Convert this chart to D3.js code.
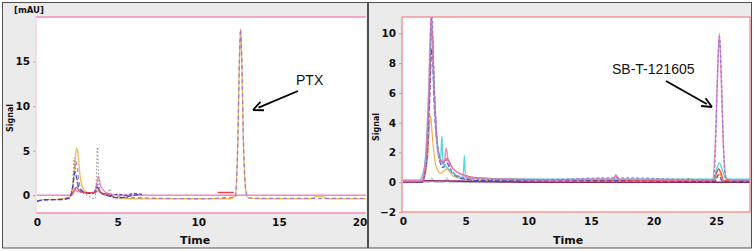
<!DOCTYPE html>
<html><head><meta charset="utf-8">
<script src="https://cdn.jsdelivr.net/npm/d3@7"></script>
<style>html,body{margin:0;padding:0;background:#fff;}svg{display:block;}</style>
</head><body>
<svg id="chart" width="754" height="251"></svg>
<script>
// ---------- DATA ----------
const leftTicksY = [0, 5, 10, 15];
const leftTicksX = [0, 5, 10, 15, 20];
const rightTicksY = [-2, 0, 2, 4, 6, 8, 10];
const rightTicksX = [0, 5, 10, 15, 20, 25];
const leftUnit = "[mAU]";
const axisLabelX = "Time";
const axisLabelY = "Signal";
const leftPeakLabel = "PTX";
const rightPeakLabel = "SB-T-121605";

// Left chromatogram traces: [time, signal]
const leftOrange = [[0,-0.6],[0.5,-0.5],[1,-0.5],[1.5,-0.4],[1.9,-0.3],[2.1,0],[2.25,1.5],[2.35,3.5],[2.45,5.3],[2.55,4.5],[2.65,2.5],[2.8,1.0],[3.0,0.4],[3.3,0.2],[3.6,0.3],[3.75,0.8],[3.9,0.4],[4.3,0],[5,-0.3],[6,-0.4],[8,-0.4],[10,-0.4],[12,-0.4],[12.3,0],[12.45,6],[12.55,15],[12.62,18.7],[12.7,15],[12.8,6],[12.95,0.5],[13.1,-0.3],[14,-0.4],[17,-0.4],[17.4,-0.1],[17.6,-0.1],[18,-0.4],[20.4,-0.4]];
const leftPurple = [[0,-0.6],[1,-0.5],[2,-0.3],[2.2,0.5],[2.3,2.5],[2.4,3.8],[2.5,3.0],[2.6,1.5],[2.8,0.5],[3.2,0.2],[3.6,0.4],[3.75,1.2],[3.9,0.5],[4.3,0.1],[5,-0.2],[6.5,-0.3],[10,-0.4],[12.3,-0.2],[12.45,6],[12.55,15],[12.62,18.6],[12.7,15],[12.8,6],[12.95,0.5],[13.1,-0.3],[14,-0.35],[20.4,-0.35]];
const leftBlue = [[0,-0.7],[0.5,-0.5],[1.5,-0.5],[2,-0.3],[2.2,0.8],[2.35,2.6],[2.45,2.0],[2.6,0.8],[3.0,0.3],[3.5,0.2],[3.75,0.9],[3.95,0.3],[4.5,-0.1],[5,-0.3],[5.5,-0.2],[6,0],[6.5,0.1]];
const leftPink = [[0,0],[2.2,0],[2.35,0.7],[2.5,0.4],[3.5,0.2],[3.7,1.2],[3.8,2.1],[3.95,1.0],[4.3,0.3],[5,0],[20.4,0]];
const leftRed = [[2.1,0],[2.3,0.5],[2.45,0.9],[2.6,0.5],[3.0,0.3],[3.6,0.3],[3.8,0.5],[4.0,0.2],[4.5,0.1]];
const leftRedSegment = [[11.2,0.3],[12.2,0.3]];
const leftGrey = [[2.0,-0.5],[2.2,1],[2.3,4.2],[2.4,2.5],[2.6,0.5],[3.0,0.1],[3.6,-0.4],[3.7,3],[3.75,5.4],[3.8,3],[3.9,0.5],[4.1,0],[4.4,0.1],[4.5,0.7],[4.6,0.1]];
const leftDarkPurple = [[4.5,-0.1],[5,0.1],[5.5,0.0],[6,0.2],[6.5,0.1]];

// Right chromatogram traces: [time, signal]
const rightPink = [[0,0.1],[1.4,0.1],[1.8,1.5],[2.05,6],[2.25,11.5],[2.45,7],[2.7,3],[3.0,1.5],[3.3,1.4],[3.45,2.3],[3.6,1.5],[4,0.9],[4.5,0.6],[5,0.4],[6,0.25],[8,0.2],[12,0.15],[15.5,0.2],[16.8,0.2],[17,0.45],[17.2,0.2],[22,0.15],[24.7,0.15],[24.9,2],[25.1,7],[25.25,10],[25.4,7],[25.6,2],[25.8,0.3],[26,0.15],[27.7,0.15]];
const rightPurple = [[0,0.05],[1.5,0.05],[1.85,1.2],[2.1,6],[2.3,11.5],[2.5,6.5],[2.75,2.5],[3.1,1.2],[3.5,1.5],[3.8,0.9],[4.5,0.4],[6,0.2],[10,0.15],[17,0.3],[24.8,0.15],[24.95,2.5],[25.12,7.5],[25.27,9.8],[25.42,7],[25.6,2],[25.8,0.2],[27.7,0.1]];
const rightBlue = [[0,0],[1.5,0],[1.9,1.5],[2.1,5],[2.3,9],[2.5,5],[2.8,2],[3.2,1.0],[3.5,1.3],[3.8,0.8],[4.5,0.3],[5,0.2],[6,0.1],[17,0.1],[24.9,0.05],[25.2,0.5],[25.5,0.05],[27.7,0.05]];
const rightCyan = [[0,0.15],[1.3,0.15],[1.7,1],[2.0,5],[2.15,8.5],[2.3,11],[2.5,6],[2.8,2],[3.0,1.5],[3.1,3.1],[3.2,1.3],[3.5,1.0],[4,0.6],[4.8,0.3],[4.9,1.8],[5.0,0.3],[6,0.25],[10,0.2],[17,0.2],[24.8,0.2],[25.0,0.8],[25.25,1.3],[25.5,0.8],[25.8,0.2],[27.7,0.2]];
const rightRed = [[0,0],[1.5,0.05],[1.9,2],[2.1,6],[2.3,10.5],[2.5,6],[2.8,2.2],[3.2,1.3],[3.5,1.6],[4,0.9],[5,0.45],[6,0.3],[10,0.2],[16.8,0.15],[17,0.5],[17.2,0.15],[22.6,0.1],[22.8,0.25],[23,0.1],[24.8,0.1],[25.0,0.6],[25.2,0.9],[25.4,0.6],[25.6,0.1],[27.7,0.1]];
const rightOrange = [[0,0.05],[1.6,0.05],[2.0,2],[2.2,4.5],[2.35,3],[2.6,1.2],[3,0.6],[3.5,0.9],[4,0.4],[6,0.1],[24.9,0.1],[25.2,0.9],[25.5,0.1],[27.7,0.1]];
const rightMagenta = [[0,0],[1.5,0],[1.7,0.1],[2,0.1],[6,0.05],[12,0],[17,0],[22,0],[27.7,0]];
const rightGrey = [[0,0],[2.1,0],[2.3,0.3],[2.5,0],[3.3,0],[3.5,0.3],[3.7,0],[27.7,0]];

// ---------- DRAW ----------
const svg = d3.select("#chart");
const tickFont = "DejaVu Sans, Verdana, sans-serif";

function panel(cfg) {
  const g = svg.append("g");
  g.append("rect").attr("x", cfg.px).attr("y", 2.5).attr("width", cfg.pw).attr("height", 245.5)
    .attr("fill", "#ebebeb").attr("stroke", "#505050").attr("stroke-width", 1);
  g.append("rect").attr("x", cfg.x0).attr("y", 17).attr("width", cfg.x1 - cfg.x0).attr("height", cfg.y0 - 17)
    .attr("fill", "#fff");
  const x = d3.scaleLinear().domain(cfg.xd).range([cfg.xz, cfg.x1]);
  const y = d3.scaleLinear().domain(cfg.yd).range([cfg.y0, 17]);
  const clipId = "clip" + cfg.px;
  svg.append("clipPath").attr("id", clipId).append("rect")
    .attr("x", cfg.x0).attr("y", 17).attr("width", cfg.x1 - cfg.x0).attr("height", cfg.y0 - 17);

  // Y axis
  const ya = d3.axisLeft(y).tickValues(cfg.yt).tickSize(3).tickPadding(3).tickFormat(d3.format("d"));
  const yg = g.append("g").attr("transform", `translate(${cfg.x0},0)`).call(ya);
  yg.select(".domain").remove();
  yg.selectAll("line").attr("stroke", cfg.frame);
  yg.selectAll("text").attr("font-family", tickFont).attr("font-weight", "bold").attr("font-size", 10.5).attr("fill", "#111");
  // X axis
  const xa = d3.axisBottom(x).tickValues(cfg.xt).tickSize(0).tickPadding(6).tickFormat(d3.format("d"));
  const xg = g.append("g").attr("transform", `translate(0,${cfg.y0})`).call(xa);
  xg.select(".domain").remove();
  xg.selectAll("text").attr("font-family", tickFont).attr("font-weight", "bold").attr("font-size", 10.5).attr("fill", "#111");

  const line = d3.line().x(d => x(d[0])).y(d => y(d[1])).curve(d3.curveMonotoneX);
  const lg = g.append("g").attr("clip-path", `url(#${clipId})`);
  cfg.traces.forEach(t => {
    lg.append("path").datum(t.data).attr("d", line).attr("fill", "none")
      .attr("stroke", t.color).attr("stroke-width", t.w || 1.2)
      .attr("stroke-dasharray", t.dash || null).attr("opacity", t.op || 0.9);
  });

  // frame
  if (cfg.fullFrame) {
    g.append("rect").attr("x", cfg.x0).attr("y", 17).attr("width", cfg.x1 - cfg.x0).attr("height", cfg.y0 - 17)
      .attr("fill", "none").attr("stroke", cfg.frame).attr("stroke-width", 1.3);
  } else {
    g.append("line").attr("x1", cfg.x0).attr("x2", cfg.x1).attr("y1", 17).attr("y2", 17).attr("stroke", cfg.frame).attr("stroke-width", 1.5);
    g.append("line").attr("x1", cfg.x0).attr("x2", cfg.x1).attr("y1", cfg.y0).attr("y2", cfg.y0).attr("stroke", cfg.frame).attr("stroke-width", 1.5);
    g.append("line").attr("x1", cfg.x0).attr("x2", cfg.x0).attr("y1", 17).attr("y2", cfg.y0).attr("stroke", "#f6c6da").attr("stroke-width", 1);
  }

  g.append("text").attr("x", cfg.timeX).attr("y", 244).text(axisLabelX)
    .attr("font-family", tickFont).attr("font-weight", "bold").attr("font-size", 11).attr("fill", "#111");
  g.append("text").attr("transform", `translate(${cfg.sigX},${cfg.sigY}) rotate(-90)`).attr("text-anchor", "middle")
    .text(axisLabelY).attr("font-family", tickFont).attr("font-weight", "bold").attr("font-size", 8).attr("fill", "#111");

  // annotation
  g.append("text").attr("x", cfg.ann.tx).attr("y", cfg.ann.ty).text(cfg.ann.label)
    .attr("font-family", "Liberation Sans, Arial, sans-serif").attr("font-size", 14).attr("fill", "#111");
  const a = cfg.ann;
  const ang = Math.atan2(a.y2 - a.y1, a.x2 - a.x1);
  g.append("line").attr("x1", a.x1).attr("y1", a.y1).attr("x2", a.x2 - 6 * Math.cos(ang)).attr("y2", a.y2 - 6 * Math.sin(ang))
    .attr("stroke", "#000").attr("stroke-width", 1.8);
  const L = 10, W = 4.5;
  const bx = a.x2 - L * Math.cos(ang), by = a.y2 - L * Math.sin(ang);
  g.append("path").attr("d", `M${a.x2},${a.y2}L${bx + W * Math.sin(ang)},${by - W * Math.cos(ang)}M${a.x2},${a.y2}L${bx - W * Math.sin(ang)},${by + W * Math.cos(ang)}`)
    .attr("stroke", "#000").attr("stroke-width", 1.8).attr("fill", "none");
  return g;
}

const lp = panel({
  px: 2.5, pw: 365, x0: 36, xz: 37, x1: 366, y0: 213,
  xd: [0, 20.4], yd: [-2, 20], xt: leftTicksX, yt: leftTicksY,
  frame: "#f08cbc", fullFrame: false,
  timeX: 180, sigX: 13, sigY: 118,
  traces: [
    {data: leftPink, color: "#f27ab8", w: 1.4},
    {data: leftOrange, color: "#f5b13c", w: 1.3},
    {data: leftPurple, color: "#9178d0", w: 1.3, dash: "4,3"},
    {data: leftBlue, color: "#3434c8", w: 1.3, dash: "5,2"},
    {data: leftRed, color: "#e33a4a", w: 1.2},
    {data: leftRedSegment, color: "#e83030", w: 1.5},
    {data: leftGrey, color: "#808080", w: 1, dash: "1.5,2"},
    {data: leftDarkPurple, color: "#6a2aa0", w: 1.3, dash: "3,2"}
  ],
  ann: {label: leftPeakLabel, tx: 296, ty: 85, x1: 298, y1: 91, x2: 253, y2: 110}
});
lp.append("text").attr("x", 14).attr("y", 13).text(leftUnit)
  .attr("font-family", tickFont).attr("font-weight", "bold").attr("font-size", 8.5).attr("fill", "#111");

panel({
  px: 368.5, pw: 383, x0: 402, xz: 403, x1: 750, y0: 212,
  xd: [0, 27.7], yd: [-2, 11.1], xt: rightTicksX, yt: rightTicksY,
  frame: "#f28a8a", fullFrame: true,
  timeX: 553, sigX: 379, sigY: 127,
  traces: [
    {data: rightGrey, color: "#a8b0dc", w: 1.1},
    {data: rightMagenta, color: "#8a1448", w: 1.6},
    {data: rightOrange, color: "#f0a030", w: 1.1},
    {data: rightBlue, color: "#3040c8", w: 1.3, dash: "5,2"},
    {data: rightRed, color: "#e83a3a", w: 1.2},
    {data: rightCyan, color: "#3ed6d0", w: 1.3},
    {data: rightPink, color: "#f07ab8", w: 1.4},
    {data: rightPurple, color: "#8f7ad6", w: 1.3, dash: "3,2"}
  ],
  ann: {label: rightPeakLabel, tx: 612, ty: 74, x1: 666, y1: 81, x2: 712, y2: 107}
});
</script>
</body></html>
